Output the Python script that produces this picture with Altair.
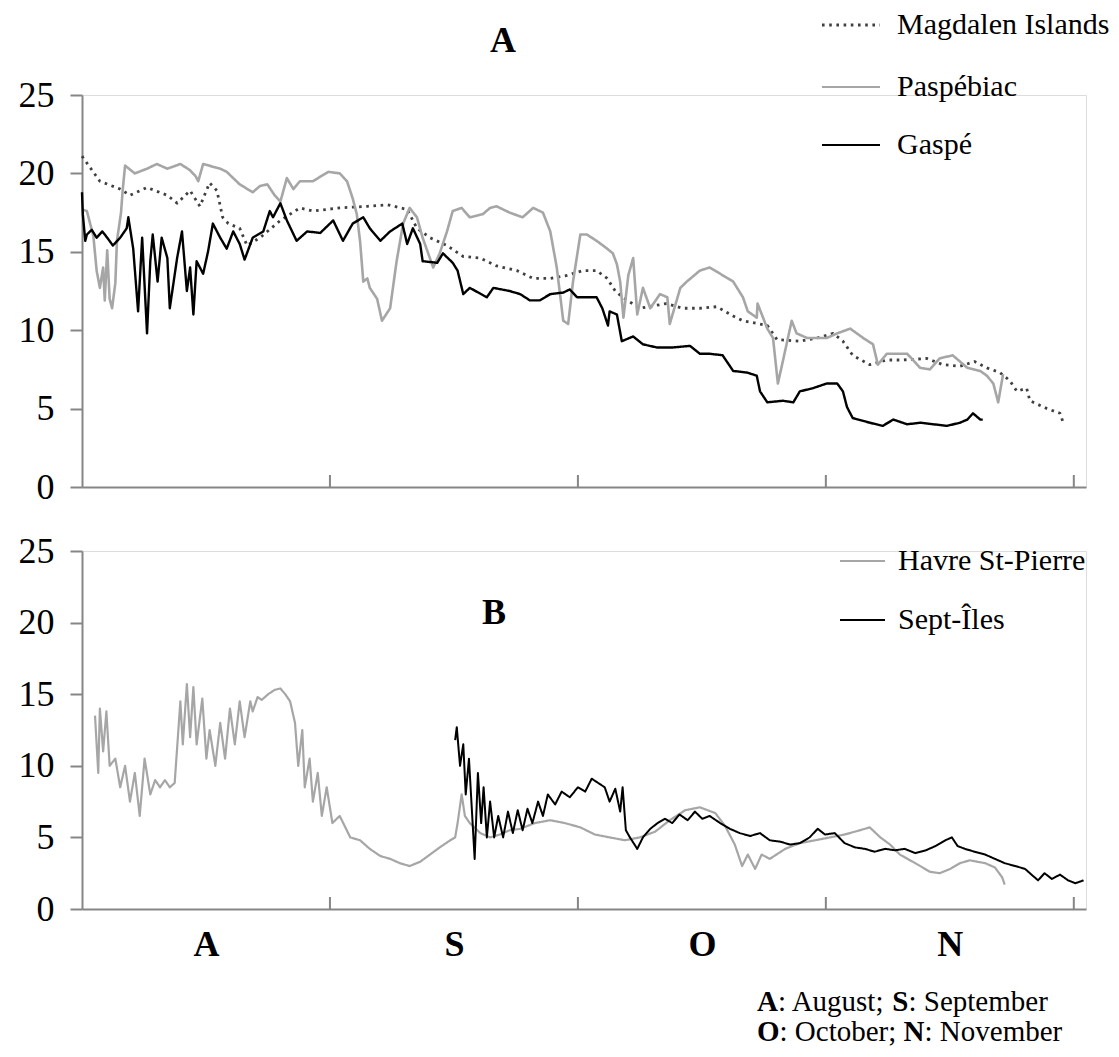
import altair as alt
import pandas as pd

FONT = "Liberation Serif"
AXC = "#868686"

# x is the day of the season counted from 1 August (months drawn as equal widths)
MONTH_TICKS = [30.5, 61, 91.5, 122]
MONTH_CENTERS = [15.25, 45.75, 76.25, 106.75]
MONTH_LETTERS = ["A", "S", "O", "N"]
Y_TICKS = [0, 5, 10, 15, 20, 25]

A_NAMES = ["Magdalen Islands", "Paspébiac", "Gaspé"]
B_NAMES = ["Havre St-Pierre", "Sept-Îles"]

MAGDALEN = [(0.0, 21.1), (2.2, 19.5), (4.7, 19.0), (5.9, 18.6), (8.0, 19.1), (10.5, 18.6), (11.7, 18.1),
            (13.3, 18.9), (14.5, 17.9), (15.7, 19.4), (16.6, 18.9), (17.3, 17.2), (18.0, 16.8), (19.4, 16.5),
            (20.3, 15.4), (21.9, 15.9), (24.4, 17.0), (25.6, 17.4), (26.8, 17.8), (28.4, 17.6), (31.7, 17.8),
            (35.1, 17.9), (37.6, 18.0), (40.0, 17.7), (41.2, 16.5), (42.8, 15.9), (44.9, 15.4), (46.9, 14.7),
            (49.0, 14.6), (51.0, 14.1), (53.5, 13.8), (55.5, 13.3), (57.6, 13.3), (59.7, 13.5), (61.6, 13.8),
            (63.3, 13.8), (64.6, 13.3), (65.6, 12.5), (66.5, 12.1), (68.6, 11.4), (71.9, 11.7), (73.9, 11.4),
            (76.0, 11.4), (78.1, 11.5), (80.1, 10.9), (81.3, 10.6), (84.3, 10.3), (85.5, 9.4), (88.3, 9.3),
            (90.4, 9.5), (92.4, 9.8), (93.6, 9.3), (94.8, 8.4), (96.9, 7.8), (99.0, 8.1), (101.0, 8.1),
            (103.9, 8.2), (105.9, 7.8), (108.0, 7.7), (109.8, 8.0), (111.3, 7.6), (112.9, 7.3), (114.1, 6.8),
            (115.0, 6.1), (116.2, 6.3), (116.6, 5.5), (118.7, 5.0), (120.3, 4.7), (120.7, 4.1)]

PASPEBIAC = [(0.0, 17.7), (0.6, 17.6), (1.4, 16.0), (1.8, 13.8), (2.2, 12.7), (2.6, 14.0), (2.8, 11.9),
             (3.1, 15.1), (3.4, 12.0), (3.7, 11.4), (4.1, 13.0), (4.3, 15.7), (4.8, 17.5), (5.0, 18.9),
             (5.3, 20.5), (6.5, 20.0), (8.0, 20.3), (9.2, 20.6), (10.5, 20.3), (12.1, 20.6), (13.3, 20.2),
             (14.0, 19.8), (14.3, 19.5), (14.9, 20.6), (17.0, 20.3), (17.8, 20.1), (19.4, 19.3), (21.0, 18.8),
             (21.9, 19.2), (22.8, 19.3), (23.7, 18.6), (24.4, 18.2), (25.2, 19.7), (26.0, 19.0), (26.8, 19.5),
             (28.4, 19.5), (30.3, 20.1), (31.7, 20.0), (32.6, 19.5), (33.3, 18.4), (33.8, 17.4), (34.2, 15.7),
             (34.6, 13.1), (35.1, 13.3), (35.4, 12.7), (36.3, 12.0), (36.9, 10.6), (37.9, 11.4), (38.7, 14.4),
             (39.5, 16.8), (40.3, 17.8), (41.2, 17.2), (41.9, 15.9), (43.2, 14.0), (44.0, 14.9), (44.9, 16.3),
             (45.6, 17.6), (46.7, 17.8), (47.7, 17.2), (49.3, 17.4), (50.2, 17.8), (51.0, 17.9), (52.6, 17.5),
             (54.2, 17.2), (55.5, 17.8), (56.7, 17.5), (57.6, 16.3), (58.4, 14.0), (59.2, 10.6), (59.8, 10.4),
             (60.4, 13.1), (61.3, 16.1), (62.1, 16.1), (63.3, 15.7), (64.6, 15.2), (65.3, 14.9), (65.8, 14.2),
             (66.2, 13.1), (66.6, 10.8), (67.2, 13.5), (67.8, 14.6), (68.3, 11.0), (69.0, 12.7), (69.9, 11.4),
             (71.1, 12.3), (72.0, 12.1), (72.3, 10.4), (73.6, 12.7), (74.4, 13.1), (76.0, 13.8), (77.2, 14.0),
             (78.5, 13.6), (80.1, 13.1), (81.3, 12.1), (81.9, 11.2), (83.0, 10.8), (83.1, 11.7), (84.3, 10.1),
             (85.0, 9.5), (85.6, 6.6), (86.2, 8.0), (87.3, 10.6), (87.9, 9.8), (89.2, 9.5), (91.6, 9.5),
             (92.9, 9.8), (94.5, 10.1), (96.1, 9.5), (97.3, 9.1), (97.9, 7.8), (99.0, 8.5), (101.5, 8.5),
             (103.1, 7.6), (104.3, 7.5), (105.5, 8.2), (107.1, 8.4), (108.9, 7.6), (110.5, 7.4), (111.3, 7.1),
             (112.1, 6.6), (112.7, 5.4), (113.3, 7.2)]

GASPE = [(0.0, 18.8), (0.1, 17.4), (0.4, 15.7), (0.6, 16.1), (1.2, 16.4), (1.8, 15.9), (2.5, 16.3),
         (3.1, 15.9), (3.8, 15.4), (4.7, 15.9), (5.5, 16.5), (5.7, 17.2), (6.3, 15.2), (6.9, 11.2),
         (7.4, 15.9), (8.0, 9.8), (8.4, 14.4), (8.7, 16.1), (9.3, 13.1), (9.8, 15.9), (10.5, 14.6),
         (10.8, 11.4), (11.7, 14.6), (12.3, 16.3), (12.9, 12.5), (13.3, 14.0), (13.7, 11.0), (14.1, 14.4),
         (14.9, 13.6), (15.5, 15.0), (16.1, 16.8), (17.0, 15.9), (17.8, 15.2), (18.6, 16.3), (19.4, 15.5),
         (20.0, 14.5), (21.0, 15.9), (22.3, 16.3), (23.1, 17.6), (23.5, 17.2), (24.4, 18.1), (25.2, 17.0),
         (26.4, 15.7), (27.7, 16.3), (29.3, 16.2), (30.9, 17.0), (32.1, 15.7), (33.3, 16.8), (34.6, 17.2),
         (35.4, 16.5), (36.7, 15.7), (37.9, 16.3), (39.4, 16.8), (40.0, 15.5), (40.7, 16.5), (41.6, 15.5),
         (41.9, 14.4), (43.7, 14.3), (44.4, 14.9), (45.6, 14.3), (46.2, 13.8), (46.9, 12.3), (47.7, 12.7),
         (49.8, 12.1), (50.6, 12.7), (52.6, 12.5), (53.9, 12.3), (55.1, 11.9), (56.3, 11.9), (57.6, 12.3),
         (59.2, 12.4), (60.0, 12.6), (60.9, 12.1), (63.3, 12.1), (64.0, 11.4), (64.7, 10.3), (64.9, 11.2),
         (65.8, 11.0), (66.4, 9.3), (67.8, 9.6), (69.0, 9.1), (70.7, 8.9), (72.7, 8.9), (74.8, 9.0),
         (76.0, 8.5), (77.2, 8.5), (78.8, 8.4), (80.1, 7.4), (81.8, 7.3), (83.0, 7.1), (83.4, 6.1),
         (84.3, 5.4), (86.2, 5.5), (87.5, 5.4), (88.3, 6.1), (89.9, 6.3), (91.6, 6.6), (92.9, 6.6),
         (93.6, 6.1), (94.1, 5.1), (94.8, 4.4), (96.9, 4.1), (98.5, 3.9), (99.8, 4.3), (101.5, 4.0),
         (103.1, 4.1), (106.4, 3.9), (108.0, 4.1), (108.9, 4.3), (109.6, 4.7), (110.5, 4.3), (110.8, 4.3)]

HAVRE = [(1.6, 13.5), (2.0, 9.5), (2.2, 14.0), (2.6, 11.0), (3.0, 13.8), (3.4, 10.0), (4.1, 10.5),
         (4.7, 8.5), (5.3, 10.0), (5.9, 7.5), (6.5, 9.5), (7.1, 6.5), (7.7, 10.5), (8.4, 8.0), (9.0, 9.0),
         (9.6, 8.5), (10.2, 9.0), (10.8, 8.5), (11.4, 8.8), (12.1, 14.5), (12.4, 11.5), (12.9, 15.7),
         (13.3, 12.0), (13.7, 15.5), (14.1, 11.5), (14.8, 14.7), (15.3, 10.5), (15.7, 12.5), (16.4, 10.0),
         (17.0, 13.0), (17.6, 10.5), (18.2, 14.0), (18.8, 11.5), (19.4, 14.5), (20.0, 12.0), (20.7, 14.5),
         (21.0, 13.8), (21.6, 14.8), (22.1, 14.6), (22.9, 15.0), (23.7, 15.3), (24.4, 15.4), (25.0, 15.0),
         (25.6, 14.5), (26.2, 13.0), (26.6, 10.0), (27.1, 12.5), (27.4, 8.5), (28.0, 10.5), (28.4, 7.5),
         (29.0, 9.5), (29.5, 6.5), (30.1, 8.5), (30.8, 6.0), (31.7, 6.5), (33.0, 5.0), (34.2, 4.8),
         (35.4, 4.2), (36.7, 3.7), (37.9, 3.5), (39.1, 3.2), (40.3, 3.0), (41.6, 3.3), (42.8, 3.8),
         (44.0, 4.3), (45.3, 4.8), (45.9, 5.0), (46.2, 6.0), (46.7, 8.0), (47.1, 6.5), (47.7, 6.0),
         (49.0, 5.3), (50.2, 5.0), (51.4, 5.2), (52.6, 5.5), (53.9, 5.6), (55.7, 6.0), (57.6, 6.2),
         (59.4, 6.0), (61.3, 5.7), (63.1, 5.2), (64.9, 5.0), (66.8, 4.8), (68.6, 5.0), (70.5, 5.4),
         (72.3, 6.2), (74.2, 6.9), (76.0, 7.1), (77.9, 6.7), (79.1, 5.8), (80.3, 4.5), (81.2, 3.0),
         (81.9, 3.8), (82.8, 2.8), (83.6, 3.8), (84.6, 3.5), (86.5, 4.2), (88.3, 4.6), (90.2, 4.8),
         (92.0, 5.0), (93.8, 5.2), (95.7, 5.5), (96.9, 5.7), (98.2, 5.0), (99.4, 4.5), (100.6, 3.8),
         (102.5, 3.2), (104.3, 2.6), (105.5, 2.5), (106.8, 2.8), (108.0, 3.2), (109.2, 3.4), (111.1, 3.2),
         (112.3, 2.9), (113.2, 2.2), (113.5, 1.7)]

SEPT_ILES = [(45.9, 11.8), (46.1, 12.7), (46.5, 10.0), (46.9, 11.5), (47.2, 8.0), (47.6, 10.5), (48.0, 6.5),
             (48.3, 3.5), (48.7, 9.5), (49.1, 6.0), (49.4, 8.5), (49.8, 5.0), (50.2, 7.5), (50.7, 5.0),
             (51.2, 6.5), (51.8, 5.0), (52.4, 6.8), (53.0, 5.3), (53.6, 6.9), (54.2, 5.5), (54.8, 7.0),
             (55.4, 6.0), (56.1, 7.5), (56.7, 6.5), (57.3, 8.0), (58.2, 7.3), (59.0, 8.2), (60.0, 7.8),
             (61.0, 8.5), (61.9, 8.2), (62.7, 9.1), (63.5, 8.8), (64.3, 8.5), (64.9, 7.5), (65.6, 8.4),
             (66.2, 6.8), (66.5, 8.5), (66.9, 5.5), (67.4, 5.0), (68.3, 4.2), (69.0, 5.0), (69.9, 5.6),
             (70.8, 6.0), (71.7, 6.3), (72.6, 6.0), (73.5, 6.6), (74.5, 6.2), (75.4, 6.8), (76.3, 6.3),
             (77.2, 6.5), (78.5, 6.0), (79.7, 5.6), (80.9, 5.3), (82.2, 5.1), (83.4, 5.3), (84.6, 4.8),
             (85.9, 4.7), (87.1, 4.5), (88.3, 4.6), (89.5, 5.0), (90.5, 5.6), (91.4, 5.2), (92.6, 5.3),
             (93.8, 4.6), (95.1, 4.3), (96.3, 4.2), (97.5, 4.0), (98.8, 4.2), (100.0, 4.1), (101.2, 4.2),
             (102.5, 3.9), (103.8, 4.1), (105.0, 4.4), (106.2, 4.8), (107.0, 5.0), (107.7, 4.4), (108.6, 4.2),
             (109.8, 4.0), (111.1, 3.8), (112.3, 3.5), (113.5, 3.2), (114.8, 3.0), (116.0, 2.8), (116.8, 2.4),
             (117.6, 2.0), (118.4, 2.5), (119.3, 2.1), (120.3, 2.4), (121.3, 2.0), (122.2, 1.8), (123.2, 2.0)]

FOOT_LINES = [[("A", True), (": August; ", False), ("S", True), (": September", False)],
              [("O", True), (": October; ", False), ("N", True), (": November", False)]]

# ---------------------------------------------------------------- styling
A_COLORS = ["#404040", "#a6a6a6", "#000000"]
A_DASH = [[2.6, 4.6], [1, 0], [1, 0]]
A_WIDTH = [2.8, 2.0, 2.2]
B_COLORS = ["#a6a6a6", "#000000"]
B_DASH = [[1, 0], [1, 0]]
B_WIDTH = [2.0, 2.0]

ALL_NAMES = A_NAMES + B_NAMES
ALL_COLORS = A_COLORS + B_COLORS
ALL_DASH = A_DASH + B_DASH
ALL_WIDTH = A_WIDTH + B_WIDTH

W = 1004
HA = 392
HB = 358
FS_LEG = 30      # legend text
FS_TICK = 36     # axis numbers
FS_BIG = 36      # panel letters and month letters
FS_FOOT = 29

xs = alt.Scale(domain=[0, 123.5], nice=False, zero=False)
ys = alt.Scale(domain=[0, 25], nice=False, zero=True)


def frame(names, series):
    rows = []
    for n, s in zip(names, series):
        for i, (d, t) in enumerate(s):
            rows.append({"station": n, "day": d, "temp": t, "i": i})
    return pd.DataFrame(rows)


def yaxis():
    return alt.Axis(values=Y_TICKS, grid=False, domainColor=AXC, domainWidth=2, tickColor=AXC,
                    tickWidth=2, tickSize=12, labelFont=FONT, labelFontSize=FS_TICK, labelColor="black",
                    labelPadding=16, title=None)


def lines(df, xaxis):
    return alt.Chart(df).mark_line(strokeJoin="round").encode(
        x=alt.X("day:Q", scale=xs, axis=xaxis),
        y=alt.Y("temp:Q", scale=ys, axis=yaxis()),
        color=alt.Color("station:N", scale=alt.Scale(domain=ALL_NAMES, range=ALL_COLORS), legend=None),
        strokeDash=alt.StrokeDash("station:N", scale=alt.Scale(domain=ALL_NAMES, range=ALL_DASH), legend=None),
        strokeWidth=alt.StrokeWidth("station:N", scale=alt.Scale(domain=ALL_NAMES, range=ALL_WIDTH), legend=None),
        detail="station:N",
        order="i:Q",
    )


def month_ticks(h):
    return alt.Chart(pd.DataFrame({"day": MONTH_TICKS})).mark_rule(color=AXC, strokeWidth=2).encode(
        x=alt.X("day:Q", scale=xs), y=alt.value(h), y2=alt.value(h - 12))


def legend_layers(names, colors, dashes, widths, x0, length, text_x, ys_):
    out = []
    for n, c, d, w, yy in zip(names, colors, dashes, widths, ys_):
        df = pd.DataFrame({"station": [n]})
        out.append(alt.Chart(df).mark_rule(color=c, strokeDash=d, strokeWidth=w).encode(
            x=alt.value(x0), x2=alt.value(x0 + length), y=alt.value(yy)))
        out.append(alt.Chart(df).mark_text(align="left", baseline="middle", font=FONT, fontSize=FS_LEG,
                                           color="black").encode(
            text="station:N", x=alt.value(text_x), y=alt.value(yy)))
    return out


def label(txt, x, y, bold=True, size=FS_BIG):
    return alt.Chart(pd.DataFrame({"t": [txt]})).mark_text(
        align="left", baseline="middle", font=FONT, fontSize=size,
        fontWeight="bold" if bold else "normal", color="black").encode(
        text="t:N", x=alt.value(x), y=alt.value(y))


# Times / Liberation Serif advance widths (per 1000 em)
REG = {"A": 722, "u": 500, "g": 500, "s": 389, "t": 278, ";": 278, ":": 278, " ": 250, "S": 556,
       "e": 444, "p": 500, "m": 778, "b": 500, "r": 333, "O": 722, "c": 444, "o": 500, "N": 722,
       "v": 500}
BOLD = {"A": 722, "S": 556, "O": 778, "N": 722}


def text_width(s, bold, size):
    tab = BOLD if bold else REG
    return sum(tab.get(ch, 500) for ch in s) * size / 1000.0


def footnote_layers(x0, y0, dy, size):
    out = []
    for k, segs in enumerate(FOOT_LINES):
        x = x0
        for s, b in segs:
            out.append(label(s, x, y0 + k * dy, bold=b, size=size))
            x += text_width(s, b, size)
    return out


# ---------------------------------------------------------------- panel A
dfA = frame(A_NAMES, [MAGDALEN, PASPEBIAC, GASPE])
xaxisA = alt.Axis(values=MONTH_TICKS, labels=False, ticks=False, grid=False, domainColor=AXC,
                  domainWidth=2, title=None)
panelA = alt.layer(
    lines(dfA, xaxisA),
    month_ticks(HA),
    label("A", 408, -54),
    *legend_layers(A_NAMES, A_COLORS, A_DASH, A_WIDTH, 740, 58, 815, [-70, -8, 50]),
).properties(width=W, height=HA)

# ---------------------------------------------------------------- panel B
dfB = frame(B_NAMES, [HAVRE, SEPT_ILES])
label_expr = " : ".join(
    [f"datum.value < {c + 1} ? '{m}'" for c, m in zip(MONTH_CENTERS[:-1], MONTH_LETTERS[:-1])]
) + f" : '{MONTH_LETTERS[-1]}'"
xaxisB = alt.Axis(values=MONTH_CENTERS, labelExpr=label_expr, ticks=False, grid=False,
                  domainColor=AXC, domainWidth=2, labelFont=FONT, labelFontSize=FS_BIG,
                  labelFontWeight="bold", labelColor="black", labelPadding=18, title=None)
panelB = alt.layer(
    lines(dfB, xaxisB),
    month_ticks(HB),
    label("B", 400, 62),
    *legend_layers(B_NAMES, B_COLORS, B_DASH, B_WIDTH, 758, 45, 816, [10, 69]),
    *footnote_layers(675, 451, 30, FS_FOOT),
).properties(width=W, height=HB)

chart = alt.vconcat(panelA, panelB, spacing=64, bounds="flush").properties(
    padding={"left": 17, "top": 9, "right": 4, "bottom": 4}
).configure_view(stroke=None).configure(background="white")

chart.save("out.html", embed_options={"renderer": "svg", "actions": False})
